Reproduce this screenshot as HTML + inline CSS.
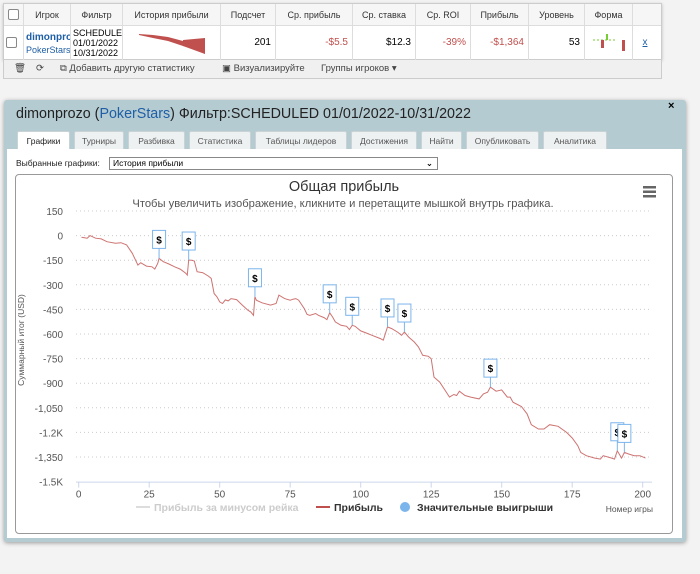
<!DOCTYPE html>
<html><head><meta charset="utf-8"><style>
*{box-sizing:border-box}
body{margin:0;width:700px;height:574px;background:#f3f3f3;font-family:"Liberation Sans","DejaVu Sans",sans-serif;position:relative;overflow:hidden}
.abs{position:absolute}
#tbl{left:3px;top:3px;width:659px;height:57px;background:#fff;border:1px solid #ccc;box-shadow:0 1px 3px #bbb}
.hc{position:absolute;top:0;height:22px;line-height:22px;font-size:9px;color:#333;text-align:center;border-right:1px solid #ddd;background:#f6f6f6;border-bottom:1px solid #ddd}
.dc{position:absolute;top:22px;height:34px;font-size:10px;border-right:1px solid #ddd;text-align:right;padding-right:4px;line-height:34px}
.neg{color:#c0504d}
#toolbar{left:3px;top:60px;width:659px;height:19px;background:#f0f0f0;border:1px solid #ccc;border-top:none;font-size:9.5px;color:#444;line-height:18px}
#panel{left:4px;top:100px;width:682px;height:442px;background:#b5cbd2;border-radius:3px;box-shadow:0 1px 4px #999}
.tab{position:absolute;top:31px;height:19px;line-height:18px;font-size:8.5px;color:#555;background:#eef1f2;border:1px solid #c9d2d5;border-bottom:none;text-align:center;border-radius:2px 2px 0 0}
#content{left:7px;top:149px;width:675px;height:389px;background:#fff}
#chartbox{left:15px;top:174px;width:658px;height:360px;border:1px solid #999;border-radius:4px;background:#fff}
</style></head><body>
<div id="tbl" class="abs">
 <div class="hc" style="left:0;width:20px"><div style="width:11px;height:11px;border:1px solid #888;margin:5px auto;border-radius:2px;background:#fff"></div></div>
 <div class="hc" style="left:20px;width:47px">Игрок</div>
 <div class="hc" style="left:67px;width:52px">Фильтр</div>
 <div class="hc" style="left:119px;width:98px">История прибыли</div>
 <div class="hc" style="left:217px;width:55px">Подсчет</div>
 <div class="hc" style="left:272px;width:77px">Ср. прибыль</div>
 <div class="hc" style="left:349px;width:63px">Ср. ставка</div>
 <div class="hc" style="left:412px;width:55px">Ср. ROI</div>
 <div class="hc" style="left:467px;width:58px">Прибыль</div>
 <div class="hc" style="left:525px;width:56px">Уровень</div>
 <div class="hc" style="left:581px;width:48px">Форма</div>
 <div class="hc" style="left:629px;width:28px;border-right:none"></div>
 <div class="dc" style="left:0;width:20px"><div style="width:11px;height:11px;border:1px solid #888;margin:11px auto;border-radius:2px"></div></div>
 <div class="dc" style="left:20px;width:47px;text-align:left;padding-left:2px;line-height:13px;padding-top:5px;overflow:hidden;white-space:nowrap"><b style="color:#1f5fa6">dimonprozo</b><br><span style="color:#1f5fa6;font-size:9px">PokerStars</span></div>
 <div class="dc" style="left:67px;width:52px;text-align:left;padding-left:2px;line-height:10px;padding-top:2px;font-size:9px;overflow:hidden;white-space:nowrap">SCHEDULED<br>01/01/2022<br>10/31/2022</div>
 <div class="dc" style="left:119px;width:98px"><svg width="98" height="34" style="position:absolute;left:0;top:0"><polygon points="16,8 30,9 45,11 60,15 75,19 82,22 82,28 75,24 60,20 45,15 30,12 16,9" fill="#c0504d"/><polygon points="60,14 82,12 82,28 60,20" fill="#c0504d"/></svg></div>
 <div class="dc" style="left:217px;width:55px">201</div>
 <div class="dc neg" style="left:272px;width:77px">-$5.5</div>
 <div class="dc" style="left:349px;width:63px">$12.3</div>
 <div class="dc neg" style="left:412px;width:55px">-39%</div>
 <div class="dc neg" style="left:467px;width:58px">-$1,364</div>
 <div class="dc" style="left:525px;width:56px">53</div>
 <div class="dc" style="left:581px;width:48px"><svg width="48" height="34" style="position:absolute;left:0;top:0"><line x1="8" y1="14" x2="30" y2="14" stroke="#7c3" stroke-dasharray="2,2"/><rect x="16" y="14" width="3" height="8" fill="#c0504d"/><rect x="21" y="8" width="2" height="6" fill="#7c3"/><rect x="37" y="14" width="3" height="11" fill="#c0504d"/></svg></div>
 <div class="dc" style="left:629px;width:28px;border-right:none;text-align:center;color:#1f5fa6;text-decoration:underline">x</div>
</div>
<div id="toolbar" class="abs">
 <span style="position:absolute;left:10px">🗑</span><span style="position:absolute;left:32px">⟳</span>
 <span style="position:absolute;left:56px">⧉ Добавить другую статистику</span>
 <span style="position:absolute;left:218px">▣ Визуализируйте</span>
 <span style="position:absolute;left:317px">Группы игроков ▾</span>
</div>
<div id="panel" class="abs">
 <div class="abs" style="left:12px;top:6px;font-size:14.3px;color:#222">dimonprozo (<span style="color:#1f5fa6">PokerStars</span>) Фильтр:SCHEDULED 01/01/2022-10/31/2022</div>
 <div class="abs" style="left:664px;top:0;font-size:11px;font-weight:bold">×</div>
 <div class="tab" style="left:13px;width:53px;background:#fff;color:#222;height:20px">Графики</div>
 <div class="tab" style="left:70px;width:50px">Турниры</div>
 <div class="tab" style="left:124px;width:57px">Разбивка</div>
 <div class="tab" style="left:185px;width:62px">Статистика</div>
 <div class="tab" style="left:251px;width:92px">Таблицы лидеров</div>
 <div class="tab" style="left:347px;width:66px">Достижения</div>
 <div class="tab" style="left:417px;width:41px">Найти</div>
 <div class="tab" style="left:462px;width:73px">Опубликовать</div>
 <div class="tab" style="left:539px;width:64px">Аналитика</div>
</div>
<div id="content" class="abs"></div>
<div class="abs" style="left:16px;top:158px;font-size:8.5px;color:#222">Выбранные графики:</div>
<div class="abs" style="left:109px;top:157px;width:329px;height:13px;border:1px solid #888;font-size:8.5px;line-height:11px;padding-left:3px;background:#fff">История прибыли<span style="position:absolute;right:4px;font-weight:bold">⌄</span></div>
<div id="chartbox" class="abs"></div>
<svg id="chart" class="abs" style="left:0;top:0" width="700" height="574"></svg>
<script>
const games=[1,3,4,6,8,10,13,15,17,19,21,22,24,26,27,28,28.5,30,32,34,36,38,38.5,39,40,41,42,44,46,47,48,49,50,51,52,53,54,56,58,60,61,62,62.5,63,65,68,70,71,73,75,76,77,78,80,81,82,84,85,87,88,89,90,91,93,95,96,97,98,100,102,104,107,108,109.5,111,113,114.5,115.5,117,119,120.5,122,124,125,126,128,130,131.5,133,134,135,137,139,142,143.5,145,146,148,150,152,153,154,157,159,160.5,163,165,167,170,173,175,177,178,180,183,185,186,189,190,191,192.5,193.5,195,197,199,201];
const profit=[-10,-16,0,-16,-20,-37,-47,-43,-57,-108,-180,-165,-186,-190,-204,-170,-139,-159,-173,-190,-204,-230,-241,-149,-150,-155,-220,-226,-247,-261,-353,-373,-404,-414,-392,-398,-384,-390,-424,-455,-465,-486,-373,-394,-410,-424,-414,-363,-384,-394,-388,-384,-394,-445,-481,-486,-475,-486,-500,-512,-471,-496,-526,-547,-553,-573,-547,-553,-581,-594,-608,-628,-638,-557,-567,-588,-608,-588,-618,-649,-679,-730,-736,-751,-863,-893,-945,-985,-969,-975,-949,-975,-985,-996,-965,-955,-924,-949,-941,-985,-985,-1016,-1042,-1087,-1153,-1179,-1179,-1153,-1163,-1200,-1234,-1281,-1322,-1342,-1357,-1363,-1342,-1357,-1363,-1312,-1357,-1322,-1332,-1342,-1342,-1357];
const bigWins=[28.5,39,62.5,89,97,109.5,115.5,146,191,193.5];
const yTicks=[150,0,-150,-300,-450,-600,-750,-900,-1050,-1200,-1350,-1500];
const yTickLabels=["150","0","-150","-300","-450","-600","-750","-900","-1,050","-1.2K","-1,350","-1.5K"];
const xTicks=[0,25,50,75,100,125,150,175,200];
const NS="http://www.w3.org/2000/svg";
const svg=document.getElementById('chart');
const X=g=>78.7+g*(642.7-78.7)/200;
const Y=v=>235.6-v*(24.6/150);
function mk(t,a,txt){const e=document.createElementNS(NS,t);for(const k in a)e.setAttribute(k,a[k]);if(txt!==undefined)e.textContent=txt;svg.appendChild(e);return e;}
let e;
e=mk('text',{x:344,y:191,'text-anchor':'middle','font-size':14.5,fill:'#333'},'Общая прибыль');


e=mk('text',{x:343,y:207,'text-anchor':'middle','font-size':11.2,fill:'#555'},'Чтобы увеличить изображение, кликните и перетащите мышкой внутрь графика.');


e=mk('g',{});


[0,1,2].forEach(i=>{const r=document.createElementNS(NS,'rect');r.setAttribute('x',643);r.setAttribute('y',186+i*4.5);r.setAttribute('width',13);r.setAttribute('height',2.5);r.setAttribute('fill','#666');e.appendChild(r);});
yTicks.forEach((v,i)=>{
 if(i<yTicks.length-1){e=mk('line',{x1:76,x2:652,y1:Y(v),y2:Y(v),stroke:'#ccc','stroke-dasharray':'1,3'});
 
 }
 e=mk('text',{x:63,y:Y(v)+4,'text-anchor':'end','font-size':10,fill:'#555'},yTickLabels[i]);
 
 
});
e=mk('line',{x1:76,x2:652,y1:Y(-1500)+0.5,y2:Y(-1500)+0.5,stroke:'#ccd6eb'});


xTicks.forEach(g=>{
 e=mk('line',{x1:X(g),x2:X(g),y1:Y(-1500),y2:Y(-1500)+6,stroke:'#ccd6eb'});
 
 
 e=mk('text',{x:X(g),y:Y(-1500)+16,'text-anchor':'middle','font-size':10,fill:'#555'},String(g));
 
 
});
e=mk('text',{x:24,y:340,'text-anchor':'middle','font-size':8.5,fill:'#555',transform:'rotate(-90 24 340)'},'Суммарный итог (USD)');


e=mk('text',{x:653,y:512,'text-anchor':'end','font-size':8.5,fill:'#555'},'Номер игры');


e=mk('path',{d:games.map((g,i)=>(i?'L':'M')+X(g).toFixed(1)+','+Y(profit[i]).toFixed(1)).join(''),fill:'none',stroke:'#c0504d','stroke-width':1,'stroke-opacity':0.8});


function valAt(g){for(let i=1;i<games.length;i++){if(games[i]>=g){const t=(g-games[i-1])/(games[i]-games[i-1]);return profit[i-1]+t*(profit[i]-profit[i-1]);}}return profit[profit.length-1];}
bigWins.forEach(g=>{
 const x=X(g),y=Y(valAt(g));
 const grp=mk('g',{});
 
 
 const l=document.createElementNS(NS,'line');[['x1',x],['x2',x],['y1',y],['y2',y-10],['stroke','#7cb5ec']].forEach(p=>l.setAttribute(p[0],p[1]));grp.appendChild(l);
 const r=document.createElementNS(NS,'rect');[['x',x-6.5],['y',y-28],['width',13],['height',18],['fill','#fff'],['stroke','#7cb5ec']].forEach(p=>r.setAttribute(p[0],p[1]));grp.appendChild(r);
 const t=document.createElementNS(NS,'text');[['x',x],['y',y-15],['text-anchor','middle'],['font-size',10],['font-weight','bold'],['fill','#000']].forEach(p=>t.setAttribute(p[0],p[1]));t.textContent='$';grp.appendChild(t);
});
e=mk('line',{x1:136,x2:150,y1:507,y2:507,stroke:'#ddd','stroke-width':2});


e=mk('text',{x:154,y:511,'font-size':10.5,'font-weight':'bold',fill:'#ccc'},'Прибыль за минусом рейка');


e=mk('line',{x1:316,x2:330,y1:507,y2:507,stroke:'#c0504d','stroke-width':2});


e=mk('text',{x:334,y:511,'font-size':10.5,'font-weight':'bold',fill:'#333'},'Прибыль');


e=mk('circle',{cx:405,cy:507,r:5,fill:'#7cb5ec'});


e=mk('text',{x:417,y:511,'font-size':10.5,'font-weight':'bold',fill:'#333'},'Значительные выигрыши');


</script>
</body></html>
